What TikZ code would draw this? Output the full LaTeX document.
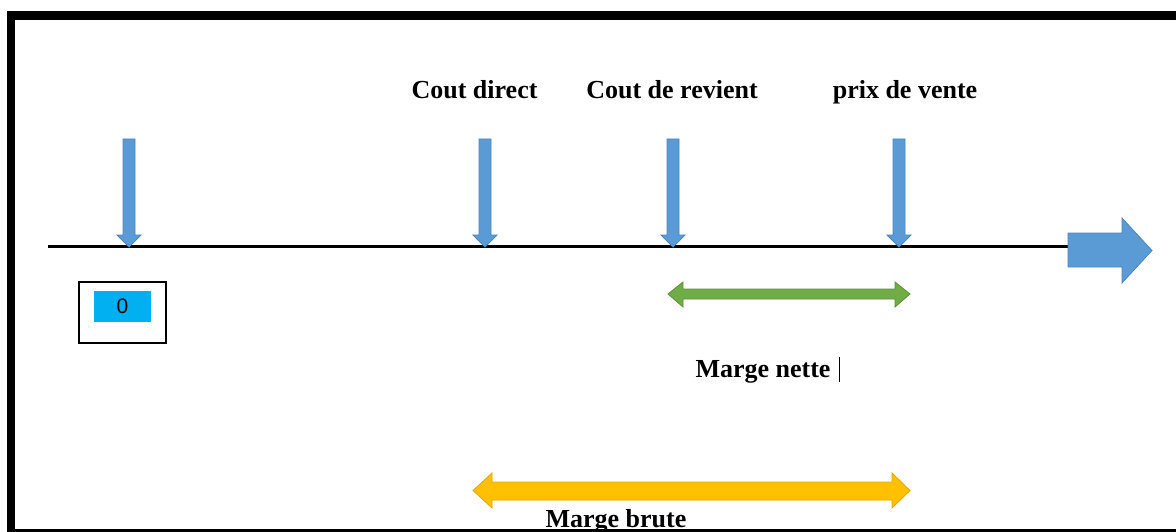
\documentclass[tikz,border=0pt]{standalone}
\usepackage{fontspec}
\setmainfont{Liberation Serif}
\newfontfamily\arialfont{Liberation Sans}
\definecolor{arrblue}{HTML}{5B9BD5}
\definecolor{arrblueedge}{HTML}{4A86C0}
\definecolor{arrgreen}{HTML}{70AD47}
\definecolor{arrgreenedge}{HTML}{5A9237}
\definecolor{arryellow}{HTML}{FFC000}
\definecolor{arryellowedge}{HTML}{E0A800}
\definecolor{boxcyan}{HTML}{00B0F0}
\tikzset{
  lbl/.style={font=\fontsize{26}{29}\selectfont\bfseries, inner sep=0pt, anchor=base},
  bluearr/.style={fill=arrblue, draw=arrblueedge, line width=0.8pt},
  downarr/.pic={\path[bluearr] (-6,0) -- (6,0) -- (6,96) -- (12,96) -- (0,108) -- (-12,96) -- (-6,96) -- cycle;},
}
\begin{document}
\begin{tikzpicture}[x=1pt,y=-1pt]
\useasboundingbox (0,0) rectangle (1176,532);
% frame
\fill[black] (7,11) rectangle (1176,20);
\fill[black] (7,11) rectangle (15,532);
% axis
\coordinate (axL) at (48,246);
\coordinate (axR) at (1068,246);
\draw[line width=3pt] (axL) -- (axR);
% big arrow
\path[bluearr] (1068,233) -- (1122,233) -- (1122,218) -- (1152,250.5) -- (1122,283) -- (1122,267) -- (1068,267) -- cycle;
% down arrows
\pic at (129,139) {downarr};
\pic at (485,139) {downarr};
\pic at (673,139) {downarr};
\pic at (899,139) {downarr};
% labels
\node[lbl] (cd) at (474.5,99) {Cout direct};
\node[lbl] (cr) at (672,99) {Cout de revient};
\node[lbl] (pv) at (905,99) {prix de vente};
% zero box
\draw[line width=1.3pt] (79,282) rectangle (166,343);
\fill[boxcyan] (94,291) rectangle (151,322);
\node[font=\arialfont\fontsize{21}{24}\selectfont, inner sep=0pt] (zero) at (122.5,306.5) {0};
% green double arrow
\path[fill=arrgreen, draw=arrgreenedge, line width=0.8pt]
  (668,294) -- (683,282) -- (683,289) -- (895,289) -- (895,282) -- (910,294)
  -- (895,307) -- (895,299) -- (683,299) -- (683,307) -- cycle;
\node[lbl] (mn) at (763,377) {Marge nette};
\draw[line width=1pt] (839,357) -- (839,382);
% yellow double arrow
\path[fill=arryellow, draw=arryellowedge, line width=0.8pt]
  (473,490.5) -- (492,473) -- (492,482) -- (892,482) -- (892,473) -- (910,490.5)
  -- (892,508) -- (892,500) -- (492,500) -- (492,508) -- cycle;
\node[lbl] (mb) at (616,527) {Marge brute};
\fill[black] (7,529) rectangle (1176,531.5);
\end{tikzpicture}
\end{document}
